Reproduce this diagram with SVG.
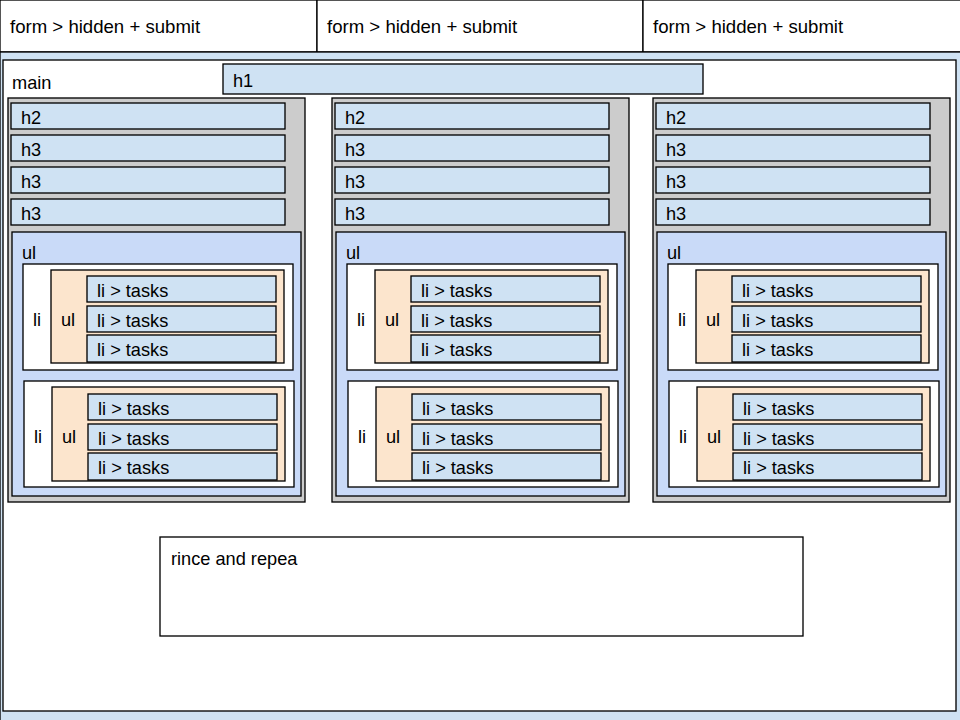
<svg xmlns="http://www.w3.org/2000/svg" width="960" height="720" viewBox="0 0 960 720">
<style>
text{font-family:"Liberation Sans",Arial,sans-serif;font-size:18.2px;fill:#000;transform:translateY(1px)}
.top{font-size:18.6px}
rect{stroke:#000;stroke-width:1.33}
.lb{fill:#cfe2f3}
.gr{fill:#cccccc}
.bl{fill:#c9daf8}
.or{fill:#fce5cd}
.wh{fill:#ffffff}
</style>
<g id="forms">
<g id="form1"><rect class="wh" x="0" y="0" width="317" height="52"/><text class="top" x="10" y="32">form &gt; hidden + submit</text></g>
<g id="form2"><rect class="wh" x="317" y="0" width="326" height="52"/><text class="top" x="327" y="32">form &gt; hidden + submit</text></g>
<g id="form3"><rect class="wh" x="643" y="0" width="318" height="52"/><text class="top" x="653" y="32">form &gt; hidden + submit</text></g>
</g>
<g id="page"><rect class="lb" x="0" y="52" width="961" height="669"/></g>
<g id="main"><rect class="wh" x="3" y="60" width="953" height="651"/><text x="12" y="88">main</text></g>
<g id="h1"><rect class="lb" x="223" y="64" width="480" height="30"/><text x="233" y="86">h1</text></g>

<g id="col1">
<rect class="gr" x="8" y="98" width="297" height="404"/>
<g id="c1-h2"><rect class="lb" x="11" y="103" width="274" height="26"/><text x="21" y="123">h2</text></g>
<g id="c1-h3a"><rect class="lb" x="11" y="135" width="274" height="26"/><text x="21" y="155">h3</text></g>
<g id="c1-h3b"><rect class="lb" x="11" y="167" width="274" height="26"/><text x="21" y="187">h3</text></g>
<g id="c1-h3c"><rect class="lb" x="11" y="199" width="274" height="26"/><text x="21" y="219">h3</text></g>
<g id="c1-ul"><rect class="bl" x="12" y="232" width="289" height="264"/><text x="22" y="258">ul</text></g>
<g id="c1-li1"><rect class="wh" x="23" y="264" width="270" height="106"/><text x="33" y="325">li</text>
<rect class="or" x="51" y="270" width="233" height="93"/><text x="61" y="325">ul</text>
<rect class="lb" x="87" y="276" width="189" height="26"/><text x="97" y="296">li &gt; tasks</text>
<rect class="lb" x="87" y="306" width="189" height="26"/><text x="97" y="326">li &gt; tasks</text>
<rect class="lb" x="87" y="335" width="189" height="27"/><text x="97" y="355">li &gt; tasks</text></g>
<g id="c1-li2"><rect class="wh" x="24" y="381" width="270" height="106"/><text x="34" y="442">li</text>
<rect class="or" x="52" y="387" width="233" height="94"/><text x="62" y="442">ul</text>
<rect class="lb" x="88" y="394" width="189" height="26"/><text x="98" y="414">li &gt; tasks</text>
<rect class="lb" x="88" y="424" width="189" height="26"/><text x="98" y="444">li &gt; tasks</text>
<rect class="lb" x="88" y="453" width="189" height="27"/><text x="98" y="473">li &gt; tasks</text></g>
</g>

<g id="col2" transform="translate(324,0)">
<rect class="gr" x="8" y="98" width="297" height="404"/>
<g id="c2-h2"><rect class="lb" x="11" y="103" width="274" height="26"/><text x="21" y="123">h2</text></g>
<g id="c2-h3a"><rect class="lb" x="11" y="135" width="274" height="26"/><text x="21" y="155">h3</text></g>
<g id="c2-h3b"><rect class="lb" x="11" y="167" width="274" height="26"/><text x="21" y="187">h3</text></g>
<g id="c2-h3c"><rect class="lb" x="11" y="199" width="274" height="26"/><text x="21" y="219">h3</text></g>
<g id="c2-ul"><rect class="bl" x="12" y="232" width="289" height="264"/><text x="22" y="258">ul</text></g>
<g id="c2-li1"><rect class="wh" x="23" y="264" width="270" height="106"/><text x="33" y="325">li</text>
<rect class="or" x="51" y="270" width="233" height="93"/><text x="61" y="325">ul</text>
<rect class="lb" x="87" y="276" width="189" height="26"/><text x="97" y="296">li &gt; tasks</text>
<rect class="lb" x="87" y="306" width="189" height="26"/><text x="97" y="326">li &gt; tasks</text>
<rect class="lb" x="87" y="335" width="189" height="27"/><text x="97" y="355">li &gt; tasks</text></g>
<g id="c2-li2"><rect class="wh" x="24" y="381" width="270" height="106"/><text x="34" y="442">li</text>
<rect class="or" x="52" y="387" width="233" height="94"/><text x="62" y="442">ul</text>
<rect class="lb" x="88" y="394" width="189" height="26"/><text x="98" y="414">li &gt; tasks</text>
<rect class="lb" x="88" y="424" width="189" height="26"/><text x="98" y="444">li &gt; tasks</text>
<rect class="lb" x="88" y="453" width="189" height="27"/><text x="98" y="473">li &gt; tasks</text></g>
</g>

<g id="col3" transform="translate(645,0)">
<rect class="gr" x="8" y="98" width="297" height="404"/>
<g id="c3-h2"><rect class="lb" x="11" y="103" width="274" height="26"/><text x="21" y="123">h2</text></g>
<g id="c3-h3a"><rect class="lb" x="11" y="135" width="274" height="26"/><text x="21" y="155">h3</text></g>
<g id="c3-h3b"><rect class="lb" x="11" y="167" width="274" height="26"/><text x="21" y="187">h3</text></g>
<g id="c3-h3c"><rect class="lb" x="11" y="199" width="274" height="26"/><text x="21" y="219">h3</text></g>
<g id="c3-ul"><rect class="bl" x="12" y="232" width="289" height="264"/><text x="22" y="258">ul</text></g>
<g id="c3-li1"><rect class="wh" x="23" y="264" width="270" height="106"/><text x="33" y="325">li</text>
<rect class="or" x="51" y="270" width="233" height="93"/><text x="61" y="325">ul</text>
<rect class="lb" x="87" y="276" width="189" height="26"/><text x="97" y="296">li &gt; tasks</text>
<rect class="lb" x="87" y="306" width="189" height="26"/><text x="97" y="326">li &gt; tasks</text>
<rect class="lb" x="87" y="335" width="189" height="27"/><text x="97" y="355">li &gt; tasks</text></g>
<g id="c3-li2"><rect class="wh" x="24" y="381" width="270" height="106"/><text x="34" y="442">li</text>
<rect class="or" x="52" y="387" width="233" height="94"/><text x="62" y="442">ul</text>
<rect class="lb" x="88" y="394" width="189" height="26"/><text x="98" y="414">li &gt; tasks</text>
<rect class="lb" x="88" y="424" width="189" height="26"/><text x="98" y="444">li &gt; tasks</text>
<rect class="lb" x="88" y="453" width="189" height="27"/><text x="98" y="473">li &gt; tasks</text></g>
</g>

<g id="rince"><rect class="wh" x="160" y="537" width="643" height="99"/><text x="171" y="564">rince and repea</text></g>
<g id="connectors"/>
</svg>
